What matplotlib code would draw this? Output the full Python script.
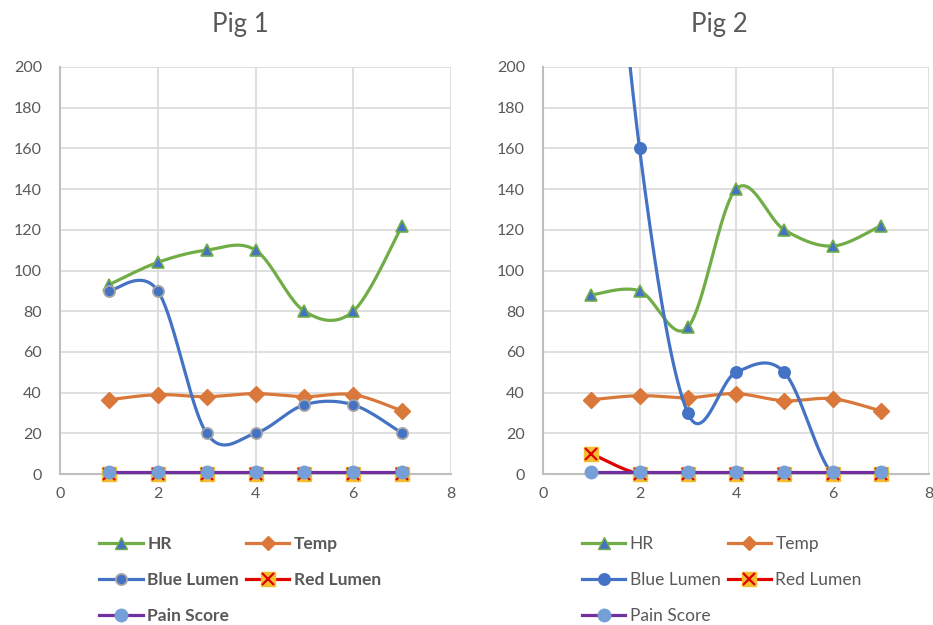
import numpy as np
import matplotlib
matplotlib.use("Agg")
import matplotlib.pyplot as plt
from matplotlib.lines import Line2D

plt.rcParams['font.family'] = ['Lato', 'DejaVu Sans']

days = [1, 2, 3, 4, 5, 6, 7]

# Pig 1
hr_1 = [93, 104, 110, 110, 80, 80, 122]
temp_1 = [36.5, 39, 38, 39.5, 38, 39, 31]
blue_1 = [90, 90, 20, 20, 34, 34, 20]
red_1 = [0, 0, 0, 0, 0, 0, 0]
pain_1 = [1, 1, 1, 1, 1, 1, 1]

# Pig 2
hr_2 = [88, 90, 72, 140, 120, 112, 122]
temp_2 = [36.5, 38.5, 37.5, 39.5, 36, 37, 31]
blue_2 = [400, 160, 30, 50, 50, 0, 0]
red_2 = [10, 0, 0, 0, 0, 0, 0]
pain_2 = [1, 1, 1, 1, 1, 1, 1]

GREEN = "#70AD47"
ORANGE = "#D9783A"
BLUE = "#4472C4"
RED = "#E00000"
GOLD = "#F5BE2E"
PURPLE = "#7030A0"
LIGHTBLUE = "#759FD6"
GRID = "#D9D9D9"
TXT = "#595959"


def smooth(x, y, n=40):
    # bezier spline through the points, like a spreadsheet "smoothed line"
    p = np.column_stack([x, y]).astype(float)
    p = np.vstack([p[0], p, p[-1]])
    out = []
    t = np.linspace(0, 1, n)[:, None]
    for i in range(1, len(p) - 2):
        p0, p1, p2, p3 = p[i - 1], p[i], p[i + 1], p[i + 2]
        c1 = p1 + (p2 - p0) / 6
        c2 = p2 - (p3 - p1) / 6
        b = (1 - t) ** 3 * p1 + 3 * (1 - t) ** 2 * t * c1 + 3 * (1 - t) * t ** 2 * c2 + t ** 3 * p2
        out.append(b)
    s = np.vstack(out)
    return s[:, 0], s[:, 1]


def draw(ax, hr, temp, blue, red, pain, blue_edge, bold):
    ax.set_xlim(0, 8)
    ax.set_ylim(0, 200)
    ax.set_xticks([0, 2, 4, 6, 8])
    ax.set_yticks(range(0, 201, 20))
    ax.grid(True, color=GRID, lw=1.2)
    ax.set_axisbelow(True)
    for s in ["top", "right"]:
        ax.spines[s].set_visible(False)
    for s in ["left", "bottom"]:
        ax.spines[s].set_color("#BFBFBF")
        ax.spines[s].set_linewidth(1.5)
    ax.tick_params(length=0, labelsize=11.5, labelcolor=TXT)
    ax.tick_params(axis="y", pad=13)
    ax.tick_params(axis="x", pad=9)

    lw = 2.3
    x = np.array(days)

    def series(vals, color, z):
        sx, sy = smooth(x, vals)
        ax.plot(sx, sy, color=color, lw=lw, zorder=z)

    def marks(vals, z, **kw):
        v = np.array(vals, dtype=float)
        v[v > 200] = np.nan
        ax.plot(x, v, ls="none", clip_on=False, zorder=z, **kw)

    series(hr, GREEN, 3)
    marks(hr, 3.1, marker="^", ms=9, mfc=BLUE, mec=GREEN, mew=1.2)
    series(temp, ORANGE, 4)
    marks(temp, 4.1, marker="D", ms=8, mfc=ORANGE, mec=ORANGE)
    series(blue, BLUE, 5)
    marks(blue, 5.1, marker="o", ms=8, mfc=BLUE, mec=blue_edge, mew=1.3)
    series(red, RED, 6)
    marks(red, 6.1, marker="s", ms=10, mfc=GOLD, mec=GOLD)
    marks(red, 6.2, marker="x", ms=9, mec=RED, mew=1.6)
    series(pain, PURPLE, 7)
    marks(pain, 7.1, marker="o", ms=9, mfc=LIGHTBLUE, mec=LIGHTBLUE)

    h_hr = Line2D([], [], color=GREEN, lw=lw, marker="^", ms=9, mfc=BLUE, mec=GREEN)
    h_temp = Line2D([], [], color=ORANGE, lw=lw, marker="D", ms=7, mfc=ORANGE, mec=ORANGE)
    h_blue = Line2D([], [], color=BLUE, lw=lw, marker="o", ms=8, mfc=BLUE, mec=blue_edge, mew=1.3)
    h_red_sq = Line2D([], [], color=RED, lw=lw, marker="s", ms=10, mfc=GOLD, mec=GOLD)
    h_red_x = Line2D([], [], ls="none", marker="x", ms=9, mec=RED, mew=1.6)
    h_pain = Line2D([], [], color=PURPLE, lw=lw, marker="o", ms=9, mfc=LIGHTBLUE, mec=LIGHTBLUE)

    handles = [h_hr, h_blue, h_pain, h_temp, (h_red_sq, h_red_x)]
    labels = ["HR", "Blue Lumen", "Pain Score", "Temp", "Red Lumen"]
    leg = ax.legend(handles, labels, ncol=2, loc="upper left",
                    bbox_to_anchor=(0.083, -0.135), frameon=False,
                    handlelength=2.5, handletextpad=0.25, columnspacing=0.4,
                    labelspacing=1.15, borderaxespad=0,
                    prop={"size": 12.5, "weight": "bold" if bold else "normal"})
    for t in leg.get_texts():
        t.set_color(TXT)


fig = plt.figure(figsize=(9.33, 6.25), dpi=100)
ax1 = fig.add_axes([60 / 933, 1 - 474 / 625, (451 - 60) / 933, (474 - 67) / 625])
ax2 = fig.add_axes([543 / 933, 1 - 474 / 625, (929 - 543) / 933, (474 - 67) / 625])

draw(ax1, hr_1, temp_1, blue_1, red_1, pain_1, "#A5A5A5", True)
draw(ax2, hr_2, temp_2, blue_2, red_2, pain_2, BLUE, False)

# chart titles sit centred over each chart area, not the plot area
fig.text(240 / 933, 1 - 32 / 625, "Pig 1", ha="center", va="baseline", fontsize=18.5, color=TXT)
fig.text(719 / 933, 1 - 32 / 625, "Pig 2", ha="center", va="baseline", fontsize=18.5, color=TXT)

fig.savefig("out.png", dpi=100)
